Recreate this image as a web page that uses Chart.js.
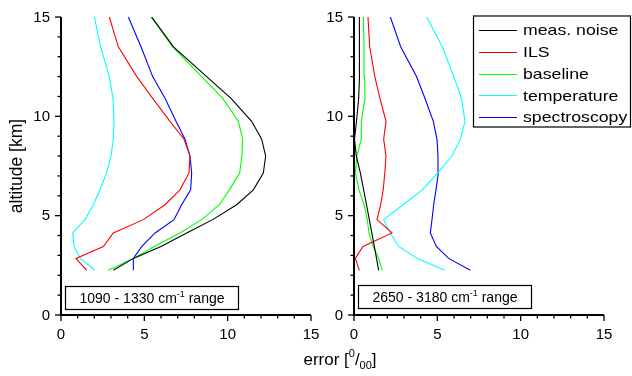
<!DOCTYPE html>
<html><head><meta charset="utf-8">
<script src="https://cdn.jsdelivr.net/npm/chart.js@4"></script>
<style>html,body{margin:0;padding:0;background:#fff;overflow:hidden}
#wrap{position:relative;width:632px;height:376px;background:#fff}
canvas{position:absolute;left:0;top:0}</style></head>
<body><div id="wrap"><canvas id="c1" width="632" height="376"></canvas><canvas id="c2" width="632" height="376"></canvas></div>
<script>
// ---- data ----
const altitude = [2.25, 2.85, 3.45, 4.13, 4.8, 5.55, 6.3, 7.15, 8.0, 8.85, 9.75, 10.9, 12.0, 13.5, 15.0];
const seriesNames = ['meas. noise', 'ILS', 'baseline', 'temperature', 'spectroscopy'];
const seriesColors = ['#000000', '#ff0000', '#00ff00', '#00ffff', '#0000ff'];
const tickValues = [0, 5, 10, 15];
const tickLabels = ['0', '5', '10', '15'];

// 1090 - 1330 cm-1 range
const lowNoise    = [3.14, 4.34, 6.0, 7.54, 9.1, 10.54, 11.54, 12.14, 12.28, 12.04, 11.44, 10.2, 8.74, 6.75, 5.44];
const lowILS      = [1.54, 0.9, 2.54, 3.14, 4.94, 6.24, 7.14, 7.68, 7.74, 7.38, 6.54, 5.5, 4.55, 3.44, 2.9];
const lowBaseline = [2.84, 4.34, 5.6, 7.14, 8.44, 9.5, 10.1, 10.72, 10.85, 10.9, 10.64, 9.7, 8.44, 6.7, 5.4];
const lowTemp     = [2.04, 1.16, 0.78, 0.7, 1.44, 1.94, 2.34, 2.74, 3.0, 3.14, 3.18, 3.12, 2.9, 2.38, 2.0];
const lowSpectro  = [4.34, 4.34, 4.85, 5.65, 6.78, 7.24, 7.78, 7.84, 7.74, 7.44, 6.9, 6.25, 5.5, 4.8, 4.04];

// 2650 - 3180 cm-1 range
const highNoise    = [1.48, 1.35, 1.22, 1.07, 0.92, 0.75, 0.58, 0.38, 0.14, 0.03, 0.15, 0.28, 0.33, 0.33, 0.32];
const highILS      = [0.32, 0.08, 0.54, 2.28, 1.38, 1.6, 1.75, 1.85, 1.92, 1.78, 1.92, 1.56, 1.25, 0.94, 0.84];
const highBaseline = [1.7, 1.48, 1.15, 0.9, 0.8, 0.6, 0.3, 0.08, 0.17, 0.44, 0.44, 0.66, 0.64, 0.6, 0.56];
const highTemp     = [5.44, 3.78, 2.68, 2.18, 1.78, 2.95, 4.1, 5.03, 5.88, 6.38, 6.66, 6.45, 5.98, 5.3, 4.36];
const highSpectro  = [6.98, 5.68, 4.94, 4.58, 4.68, 4.78, 4.92, 5.06, 5.04, 4.98, 4.76, 4.26, 3.75, 2.8, 2.18];

// ---- text helpers ----
const FONT = '"Liberation Sans", Arial, sans-serif';
function stext(ctx, s, x, y, size, align, base, sx) {
  ctx.save(); ctx.translate(x, y); ctx.scale(sx || 1, 1);
  ctx.font = size + 'px ' + FONT; ctx.textAlign = align || 'left'; ctx.textBaseline = base || 'alphabetic';
  ctx.fillStyle = '#000'; ctx.fillText(s, 0, 0); ctx.restore();
}
function swidth(ctx, s, size, sx) {
  ctx.save(); ctx.font = size + 'px ' + FONT; const w = ctx.measureText(s).width * (sx || 1); ctx.restore(); return w;
}
function richText(ctx, parts, cx, baseY) {
  let total = 0; parts.forEach(p => total += swidth(ctx, p.t, p.size));
  let x = cx - total / 2;
  parts.forEach(p => { stext(ctx, p.t, x, baseY + (p.dy || 0), p.size, 'left'); x += swidth(ctx, p.t, p.size); });
}

function axesPlugin(rangeText, box) {
  return {
    id: 'axesDraw',
    afterDraw(chart) {
      const ctx = chart.ctx, xs = chart.scales.x, ys = chart.scales.y, a = chart.chartArea;
      ctx.save();
      ctx.strokeStyle = '#000';
      ctx.lineWidth = 1.3;
      for (let v = 0; v <= 15; v++) {
        const len = v % 5 === 0 ? 6 : 3.5;
        const py = ys.getPixelForValue(v);
        ctx.beginPath(); ctx.moveTo(a.left, py); ctx.lineTo(a.left - len, py); ctx.stroke();
        const px = xs.getPixelForValue(v);
        ctx.beginPath(); ctx.moveTo(px, a.bottom); ctx.lineTo(px, a.bottom + len); ctx.stroke();
      }
      ctx.lineWidth = 2;
      ctx.beginPath(); ctx.moveTo(a.left, a.top); ctx.lineTo(a.left, a.bottom); ctx.lineTo(a.right, a.bottom); ctx.stroke();
      tickValues.forEach((v, i) => {
        stext(ctx, tickLabels[i], a.left - 11, ys.getPixelForValue(v) + 0.5, 15, 'right', 'middle');
        stext(ctx, tickLabels[i], xs.getPixelForValue(v), a.bottom + 19.5, 15, 'center', 'middle');
      });
      ctx.lineWidth = 1.2;
      ctx.strokeRect(box.x, box.y, box.w, box.h);
      richText(ctx, [{t: rangeText + ' cm', size: 14}, {t: '-1', size: 9, dy: -6}, {t: ' range', size: 14}],
        box.x + box.w / 2, box.y + box.h / 2 + 5);
      ctx.restore();
    }
  };
}

const legendPlugin = {
  id: 'legendDraw',
  afterDraw(chart) {
    const ctx = chart.ctx;
    ctx.save();
    ctx.fillStyle = '#fff'; ctx.fillRect(473.5, 16, 157, 111);
    ctx.strokeStyle = '#000'; ctx.lineWidth = 1.2; ctx.strokeRect(473.5, 16, 157, 111);
    seriesNames.forEach((n, i) => {
      const y = 30 + i * 21.8;
      ctx.strokeStyle = seriesColors[i]; ctx.lineWidth = 1;
      ctx.beginPath(); ctx.moveTo(479, Math.round(y) + 0.5); ctx.lineTo(517, Math.round(y) + 0.5); ctx.stroke();
      stext(ctx, n, 523, y + 1, 15, 'left', 'middle', 1.18);
    });
    // axis titles
    ctx.save(); ctx.translate(17, 166); ctx.rotate(-Math.PI / 2);
    ctx.font = '17.5px ' + FONT; ctx.textAlign = 'center'; ctx.textBaseline = 'middle'; ctx.fillStyle = '#000';
    ctx.fillText('altitude [km]', 0, 0); ctx.restore();
    richText(ctx, [{t: 'error [', size: 17}, {t: '0', size: 11, dy: -8}, {t: '/', size: 17},
      {t: '00', size: 11, dy: 4}, {t: ']', size: 17}], 340, 365);
    ctx.restore();
  }
};

function makeChart(id, pad, data, plugins) {
  return new Chart(document.getElementById(id), {
    type: 'scatter',
    data: {
      datasets: seriesNames.map((n, i) => ({
        label: n,
        data: altitude.map((h, k) => ({x: data[i][k], y: h})),
        showLine: true, borderColor: seriesColors[i], backgroundColor: seriesColors[i],
        borderWidth: 1.1, pointRadius: 0, pointHoverRadius: 0, tension: 0, fill: false
      }))
    },
    options: {
      responsive: false, animation: false, devicePixelRatio: 1, events: [],
      layout: {padding: pad},
      plugins: {legend: {display: false}, tooltip: {enabled: false}},
      scales: {
        x: {type: 'linear', min: 0, max: 15, display: false},
        y: {type: 'linear', min: 0, max: 15, display: false}
      }
    },
    plugins: plugins
  });
}

makeChart('c1', {left: 61, right: 321, top: 17, bottom: 61},
  [lowNoise, lowILS, lowBaseline, lowTemp, lowSpectro],
  [axesPlugin('1090 - 1330', {x: 65.5, y: 286.5, w: 173, h: 23})]);
makeChart('c2', {left: 354, right: 28, top: 17, bottom: 61},
  [highNoise, highILS, highBaseline, highTemp, highSpectro],
  [axesPlugin('2650 - 3180', {x: 358.5, y: 285.5, w: 173, h: 23}), legendPlugin]);
</script></body></html>
